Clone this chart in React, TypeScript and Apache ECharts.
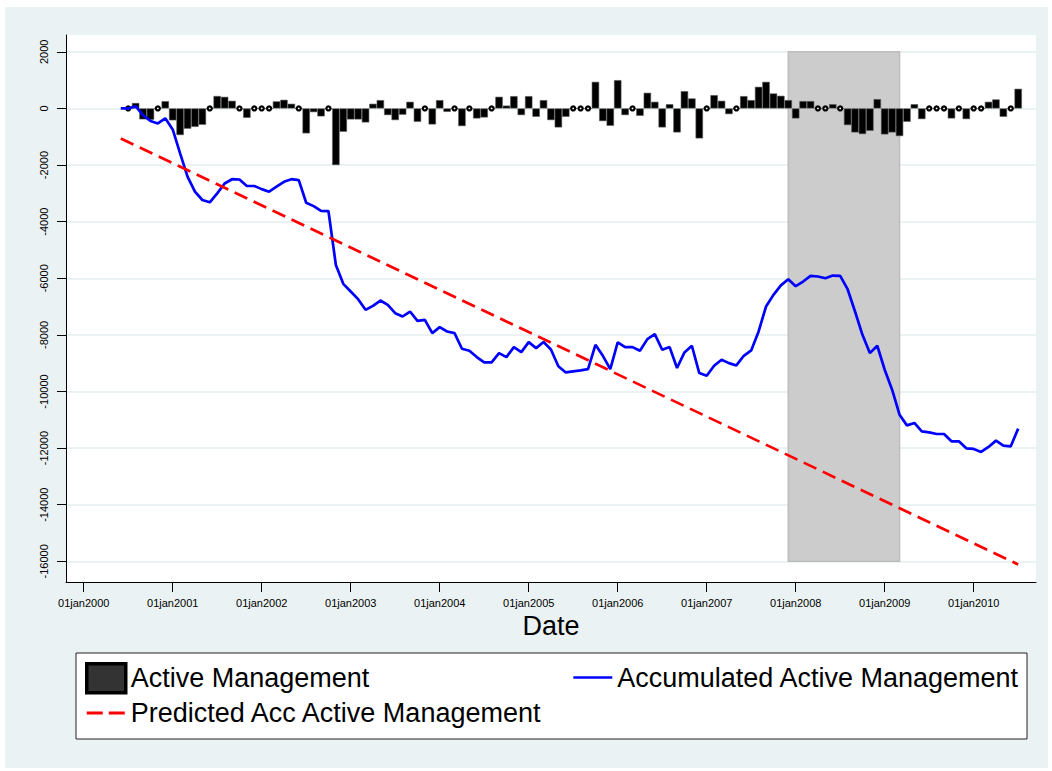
import React, { useEffect, useRef } from "react";
import * as echarts from "echarts";

const FONT = '"Liberation Sans", Arial, Helvetica, sans-serif';

// x positions are months counted from January 2000 (0 = Jan 2000)
const yearTicks = [0, 12, 24, 36, 48, 60, 72, 84, 96, 108, 120];
const yearTickLabels = [
  "01jan2000", "01jan2001", "01jan2002", "01jan2003", "01jan2004", "01jan2005",
  "01jan2006", "01jan2007", "01jan2008", "01jan2009", "01jan2010",
];
const yTicks = [-16000, -14000, -12000, -10000, -8000, -6000, -4000, -2000, 0, 2000];

// Active Management, monthly, first value = Jul 2000 (month 6)
const activeStartMonth = 6;
const activeManagement = [
  0, 190, -385, -400, 0, 257, -420, -940, -715, -650,
  -575, 0, 440, 410, 270, 0, -330, 0, 0, 0,
  250, 305, 165, 0, -880, -130, -280, 0, -2000, -823,
  -388, -388, -494, 165, 294, -235, -412, -220, 235, -470,
  0, -565, 294, -120, 0, -623, 0, -353, -318, 0,
  412, 100, 435, -235, 435, -294, 294, -412, -670, -294,
  0, 0, 0, 940, -447, -611, 1000, -235, 0, -259,
  553, 235, -670, 150, -847, 611, 353, -1058, 0, 470,
  270, -200, 0, 435, 294, 764, 940, 529, 447, 294,
  -353, 259, 259, 0, 0, 150, 0, -588, -847, -905,
  -788, 329, -917, -847, -976, -470, 150, -376, 0, 0,
  0, -353, 0, -376, 0, 0, 235, 318, -294, 0,
  694,
];

// Accumulated Active Management, monthly, first value = Jun 2000 (month 5)
const accStartMonth = 5;
const accumulated = [
  0, 0, 80, -240, -440, -530, -350, -740, -1590, -2410,
  -2940, -3235, -3315, -3000, -2650, -2500, -2510, -2740, -2740, -2850,
  -2940, -2765, -2590, -2500, -2530, -3330, -3450, -3620, -3625, -5527,
  -6197, -6468, -6737, -7115, -6974, -6786, -6938, -7232, -7350, -7174,
  -7502, -7467, -7937, -7725, -7879, -7937, -8490, -8561, -8784, -8973,
  -8973, -8643, -8784, -8431, -8607, -8254, -8466, -8250, -8515, -9110,
  -9326, -9291, -9256, -9208, -8350, -8738, -9208, -8267, -8431, -8431,
  -8561, -8150, -7973, -8526, -8431, -9171, -8620, -8384, -9348, -9443,
  -9091, -8879, -8997, -9079, -8738, -8550, -7879, -6997, -6586, -6250,
  -6032, -6280, -6115, -5915, -5938, -5997, -5903, -5915, -6386, -7174,
  -7997, -8643, -8384, -9231, -9937, -10818, -11196, -11111, -11407, -11442,
  -11501, -11501, -11760, -11760, -12007, -12030, -12136, -11958, -11736, -11912,
  -11936, -11312,
];

// Predicted (linear fit) – end points
const predictedMonths = [5, 126];
const predictedValues = [-1060, -16110];

// Shaded period (Dec 2007 – Mar 2009) and its vertical extent
const shadeMonths = [95, 110];
const shadeValues = [-16000, 2000];

export default function App() {
  const ref = useRef<HTMLDivElement>(null);

  useEffect(() => {
    if (!ref.current) return;
    const chart = echarts.init(ref.current, undefined, { renderer: "svg" });

    const barData = activeManagement.map((v, i) => [activeStartMonth + i, v]);
    const flatData = activeManagement
      .map((v, i) => [activeStartMonth + i, v])
      .filter((d) => d[1] === 0);
    const accData = accumulated.map((v, i) => [accStartMonth + i, v]);
    const predData = predictedMonths.map((m, i) => [m, predictedValues[i]]);

    const legendText = { fontSize: 27, color: "#000", fontFamily: FONT };
    const hiddenSymbol = {
      color: "rgba(0,0,0,0)",
      borderColor: "rgba(0,0,0,0)",
      borderWidth: 0,
      opacity: 0,
    };

    chart.setOption({
      animation: false,
      backgroundColor: "#EAF2F3",
      textStyle: { fontFamily: FONT },
      grid: {
        left: 61,
        top: 28,
        width: 970,
        height: 547,
        show: true,
        backgroundColor: "#ffffff",
        borderWidth: 0,
        containLabel: false,
      },
      xAxis: {
        type: "value",
        min: -2.386,
        max: 128.4,
        axisLine: { show: true, onZero: false, lineStyle: { color: "#000", width: 1 } },
        axisTick: {
          show: true,
          length: 10,
          customValues: yearTicks,
          lineStyle: { color: "#000", width: 1 },
        },
        axisLabel: {
          customValues: yearTicks,
          formatter: (v: number) => yearTickLabels[yearTicks.indexOf(v)] ?? "",
          fontSize: 11,
          color: "#000",
          margin: 15,
          fontFamily: FONT,
        },
        splitLine: { show: false },
        name: "Date",
        nameLocation: "middle",
        nameGap: 30,
        nameTextStyle: { fontSize: 27, color: "#000", fontFamily: FONT },
      },
      yAxis: {
        type: "value",
        min: -16730,
        max: 2595,
        axisLine: { show: true, onZero: false, lineStyle: { color: "#000", width: 1 } },
        axisTick: {
          show: true,
          length: 9,
          customValues: yTicks,
          lineStyle: { color: "#000", width: 1 },
        },
        axisLabel: {
          customValues: yTicks,
          formatter: (v: number) => String(v),
          rotate: 90,
          fontSize: 11,
          color: "#000",
          margin: 17,
          fontFamily: FONT,
        },
        splitLine: { show: true, lineStyle: { color: "#EAF2F3", width: 2 } },
      },
      legend: [
        {
          left: 80,
          top: 655,
          padding: 0,
          orient: "vertical",
          itemWidth: 39,
          itemHeight: 29,
          itemGap: 5,
          selectedMode: false,
          textStyle: legendText,
          data: [
            {
              name: "Active Management",
              icon: "rect",
              itemStyle: { color: "#333333", borderColor: "#000", borderWidth: 3.5 },
            },
            {
              name: "Predicted Acc Active Management",
              itemStyle: hiddenSymbol,
              lineStyle: { color: "#FF0000", width: 3, type: [16, 6] },
            },
          ],
          z: 10,
        },
        {
          left: 567,
          top: 657,
          padding: 0,
          orient: "vertical",
          itemWidth: 39,
          itemHeight: 29,
          selectedMode: false,
          textStyle: legendText,
          data: [
            {
              name: "Accumulated Active Management",
              itemStyle: hiddenSymbol,
              lineStyle: { color: "#0000FF", width: 2.6 },
            },
          ],
          z: 10,
        },
      ],
      graphic: [
        {
          type: "rect",
          z: 0,
          shape: { x: 71, y: 646, width: 951, height: 86 },
          style: { fill: "#ffffff", stroke: "#222222", lineWidth: 1 },
          silent: true,
        },
      ],
      series: [
        {
          name: "shade",
          type: "line",
          data: [],
          z: 1,
          silent: true,
          markArea: {
            silent: true,
            itemStyle: { color: "#CCCCCC", borderColor: "#BDBDBD", borderWidth: 1.5 },
            data: [
              [
                { xAxis: shadeMonths[0], yAxis: shadeValues[0] },
                { xAxis: shadeMonths[1], yAxis: shadeValues[1] },
              ],
            ],
          },
        },
        {
          name: "Active Management",
          type: "bar",
          data: barData,
          barWidth: 7.4,
          z: 2,
          itemStyle: { color: "#000", borderColor: "#555", borderWidth: 0.6 },
        },
        {
          name: "flat",
          type: "scatter",
          data: flatData,
          z: 3,
          silent: true,
          symbol: "circle",
          symbolSize: 4,
          itemStyle: { color: "#fff", borderColor: "#000", borderWidth: 2.2, opacity: 1 },
        },
        {
          name: "Accumulated Active Management",
          type: "line",
          data: accData,
          z: 4,
          symbol: "none",
          lineStyle: { color: "#0000FF", width: 2.7 },
          itemStyle: { color: "#0000FF" },
        },
        {
          name: "Predicted Acc Active Management",
          type: "line",
          data: predData,
          z: 5,
          symbol: "none",
          lineStyle: { color: "#FF0000", width: 2.7, type: [14, 7] },
          itemStyle: { color: "#FF0000" },
        },
      ],
    });

    return () => chart.dispose();
  }, []);

  return (
    <div
      style={{
        position: "fixed",
        left: 0,
        top: 0,
        width: 1052,
        height: 771,
        background: "#ffffff",
      }}
    >
      <div
        ref={ref}
        style={{ position: "absolute", left: 5, top: 7, width: 1043, height: 761 }}
      />
    </div>
  );
}
